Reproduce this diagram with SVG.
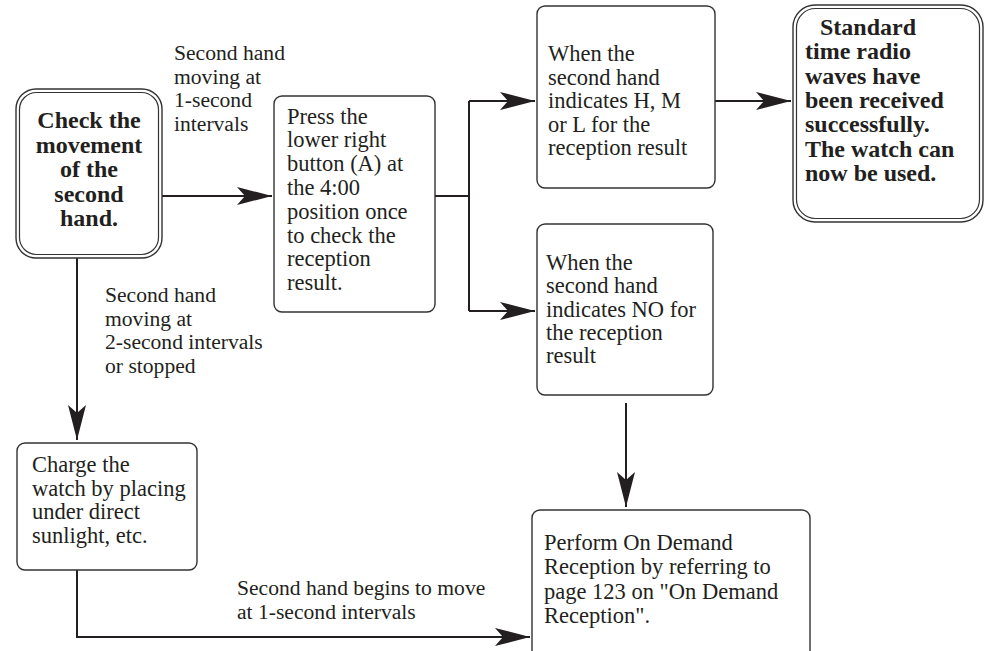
<svg xmlns="http://www.w3.org/2000/svg" width="991" height="651" viewBox="0 0 991 651">
<style>
.box{fill:#fff;stroke:#333;stroke-width:1.4}
.dbl{fill:none;stroke:#333;stroke-width:1.2}
.t{font-family:"Liberation Serif","Times New Roman",serif;font-size:22.5px;fill:#231f20}
.b{font-family:"Liberation Serif","Times New Roman",serif;font-size:24px;font-weight:bold;fill:#231f20}
.lbl{font-family:"Liberation Serif","Times New Roman",serif;font-size:21.6px;fill:#231f20}
.c{fill:none;stroke:#231f20;stroke-width:2}
</style>
<defs>
<marker id="ah" markerUnits="userSpaceOnUse" markerWidth="40" markerHeight="24" viewBox="-36 -12 40 24" refX="0" refY="0" orient="auto">
<path d="M0,0 L-35,-9 L-27,0 L-35,9 Z" fill="#231f20"/>
</marker>
</defs>
<rect width="991" height="651" fill="#fff"/>
<g id="connectors">
<path class="c" d="M162,196 H272" marker-end="url(#ah)"/>
<path class="c" d="M435,196 H469"/>
<path class="c" d="M469,101 V311"/>
<path class="c" d="M469,101 H535" marker-end="url(#ah)"/>
<path class="c" d="M469,311 H535" marker-end="url(#ah)"/>
<path class="c" d="M715,101 H791" marker-end="url(#ah)"/>
<path class="c" d="M626,403 V507" marker-end="url(#ah)"/>
<path class="c" d="M77,258 V440" marker-end="url(#ah)"/>
<path class="c" d="M77,570 V637 H530" marker-end="url(#ah)"/>
<text class="lbl"><tspan x="174" y="60">Second hand</tspan><tspan x="174" y="83.5">moving at</tspan><tspan x="174" y="107">1-second</tspan><tspan x="174" y="130.5">intervals</tspan></text>
<text class="lbl"><tspan x="105" y="302">Second hand</tspan><tspan x="105" y="325.5">moving at</tspan><tspan x="105" y="349">2-second intervals</tspan><tspan x="105" y="372.5">or stopped</tspan></text>
<text class="lbl"><tspan x="237" y="595">Second hand begins to move</tspan><tspan x="237" y="618.5">at 1-second intervals</tspan></text>
</g>
<g id="check">
<rect class="box" x="16" y="89" width="146" height="169" rx="20"/>
<rect class="dbl" x="19.5" y="92.5" width="139" height="162" rx="17"/>
<text class="b" text-anchor="middle"><tspan x="89" y="128">Check the</tspan><tspan x="89" y="152.5">movement</tspan><tspan x="89" y="177">of the</tspan><tspan x="89" y="201.5">second</tspan><tspan x="89" y="226">hand.</tspan></text>
</g>
<g id="press">
<rect class="box" x="274" y="96" width="161" height="216" rx="8"/>
<text class="t"><tspan x="287" y="123.5">Press the</tspan><tspan x="287" y="147.3">lower right</tspan><tspan x="287" y="171.1">button (A) at</tspan><tspan x="287" y="194.9">the 4:00</tspan><tspan x="287" y="218.7">position once</tspan><tspan x="287" y="242.5">to check the</tspan><tspan x="287" y="266.3">reception</tspan><tspan x="287" y="290.1">result.</tspan></text>
</g>
<g id="hml">
<rect class="box" x="537" y="6" width="178" height="182" rx="8"/>
<text class="t"><tspan x="548" y="61">When the</tspan><tspan x="548" y="84.6">second hand</tspan><tspan x="548" y="108.2">indicates H, M</tspan><tspan x="548" y="131.8">or L for the</tspan><tspan x="548" y="155.4">reception result</tspan></text>
</g>
<g id="standard">
<rect class="box" x="793" y="5" width="190" height="217" rx="22"/>
<rect class="dbl" x="796.5" y="8.5" width="183" height="210" rx="19"/>
<text class="b"><tspan x="820" y="35">Standard</tspan><tspan x="805" y="59.3">time radio</tspan><tspan x="805" y="83.6">waves have</tspan><tspan x="805" y="107.9">been received</tspan><tspan x="805" y="132.2">successfully.</tspan><tspan x="805" y="156.5">The watch can</tspan><tspan x="805" y="180.8">now be used.</tspan></text>
</g>
<g id="no">
<rect class="box" x="537" y="224" width="176" height="171" rx="8"/>
<text class="t"><tspan x="546" y="270">When the</tspan><tspan x="546" y="293.3">second hand</tspan><tspan x="546" y="316.6">indicates NO for</tspan><tspan x="546" y="339.9">the reception</tspan><tspan x="546" y="363.2">result</tspan></text>
</g>
<g id="charge">
<rect class="box" x="17" y="443" width="180" height="127" rx="8"/>
<text class="t"><tspan x="32" y="472">Charge the</tspan><tspan x="32" y="495.5">watch by placing</tspan><tspan x="32" y="519">under direct</tspan><tspan x="32" y="542.5">sunlight, etc.</tspan></text>
</g>
<g id="perform">
<rect class="box" x="532" y="510" width="278" height="150" rx="8"/>
<text class="t"><tspan x="544" y="550">Perform On Demand</tspan><tspan x="544" y="574.3">Reception by referring to</tspan><tspan x="544" y="598.6">page 123 on "On Demand</tspan><tspan x="544" y="622.9">Reception".</tspan></text>
</g>
</svg>
